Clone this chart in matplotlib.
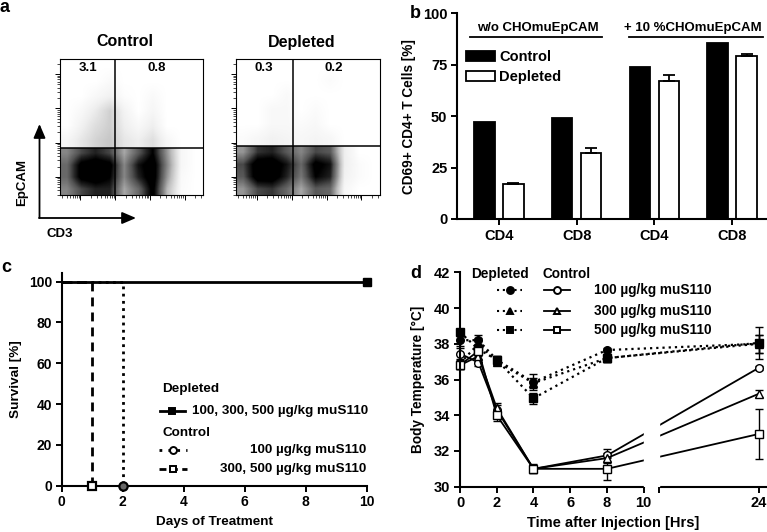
import numpy as np
import matplotlib
matplotlib.use('Agg')
import matplotlib.pyplot as plt
from matplotlib.patches import Patch, FancyArrowPatch

plt.rcParams['font.family'] = ['Liberation Sans', 'DejaVu Sans']
plt.rcParams['font.weight'] = 'bold'
plt.rcParams['axes.labelweight'] = 'bold'

W, H = 767, 532


def fx(px):
    return px / W


def fy(py):
    return 1 - py / H


flow_titles = ['Control', 'Depleted']
flow_quadrants = [['3.1', '0.8'], ['0.3', '0.2']]
flow_gate_x = [2.0, 2.04]
flow_gate_y = [1.85, 1.90]
ctrl_upper = [[0, 0, 0, 0, 0, 0, 0, 0, 0, 0],
              [0, 0, 0, 0.04, 0, 0, 0, 0, 0, 0],
              [0, 0, 0.05, 0.1, 0.02, 0, 0.04, 0, 0, 0],
              [0, 0.05, 0.14, 0.26, 0.09, 0, 0.07, 0, 0, 0],
              [0, 0.1, 0.2, 0.27, 0.12, 0.05, 0.12, 0, 0, 0],
              [0.07, 0.16, 0.25, 0.3, 0.16, 0.12, 0.2, 0.06, 0, 0]]
ctrl_lower = [[0.5, 0.7, 0.8, 0.7, 0.4, 0.65, 0.9, 0.45, 0.06, 0],
              [0.6, 0.95, 1.0, 0.95, 0.5, 0.85, 1.0, 0.5, 0.06, 0],
              [0.6, 0.95, 1.0, 0.9, 0.5, 0.8, 1.0, 0.45, 0.04, 0],
              [0.5, 0.7, 0.8, 0.8, 0.4, 0.6, 0.95, 0.35, 0.03, 0]]
depl_upper = [[0, 0, 0, 0, 0, 0, 0, 0, 0, 0],
              [0, 0, 0, 0, 0, 0, 0.03, 0, 0, 0],
              [0, 0, 0, 0.04, 0, 0, 0, 0, 0, 0],
              [0, 0, 0.05, 0.05, 0, 0.03, 0, 0, 0, 0],
              [0, 0, 0.05, 0.05, 0.03, 0.05, 0, 0, 0, 0],
              [0.03, 0.06, 0.1, 0.08, 0.06, 0.08, 0.06, 0, 0, 0]]
depl_lower = [[0.45, 0.75, 0.8, 0.65, 0.5, 0.7, 0.65, 0.12, 0, 0],
              [0.7, 1.0, 1.0, 0.85, 0.6, 0.95, 0.85, 0.12, 0.03, 0],
              [0.65, 1.0, 1.0, 0.8, 0.55, 0.9, 0.8, 0.1, 0.03, 0],
              [0.45, 0.7, 0.75, 0.6, 0.4, 0.65, 0.6, 0.06, 0, 0]]
flow_upper = [ctrl_upper, depl_upper]
flow_lower = [ctrl_lower, depl_lower]

# ---- panel b : activation bars
b_groups = ['CD4', 'CD8', 'CD4', 'CD8']
b_control = [47, 49, 74, 85.6]
b_depleted = [17, 32, 67, 79]
b_depleted_err = [0.6, 2.3, 2.9, 1.3]
b_headers = ['w/o CHOmuEpCAM', '+ 10 %CHOmuEpCAM']

# ---- panel c : survival
c_dep_days = [0, 10]
c_dep_surv = [100, 100]
c_ctl100_days = [0, 2, 2]
c_ctl100_surv = [100, 100, 0]
c_ctl300_days = [0, 1, 1]
c_ctl300_surv = [100, 100, 0]

# ---- panel d : body temperature
d_hours = [0, 1, 2, 4, 8, 24]
d_ctrl_100 = [37.45, 36.95, 34.3, 31.0, 31.75, 36.65]
d_ctrl_300 = [36.8, 37.3, 34.4, 31.0, 31.6, 35.2]
d_ctrl_500 = [36.8, 37.6, 34.0, 31.0, 31.0, 32.95]
d_dep_100 = [38.2, 38.2, 37.1, 35.85, 37.65, 38.0]
d_dep_300 = [36.9, 38.0, 37.0, 35.8, 37.2, 38.0]
d_dep_500 = [38.65, 37.7, 37.1, 34.95, 37.2, 38.05]
d_ctrl_100_err = [0.3, 0.2, 0.3, 0.25, 0.35, 0.1]
d_ctrl_300_err = [0.2, 0.3, 0.3, 0.2, 0.3, 0.2]
d_ctrl_500_err = [0.2, 0.3, 0.3, 0.2, 0.6, 1.4]
d_dep_100_err = [0.3, 0.3, 0.2, 0.45, 0.1, 0.5]
d_dep_300_err = [0.2, 0.3, 0.2, 0.3, 0.2, 0.5]
d_dep_500_err = [0.2, 0.3, 0.2, 0.3, 0.2, 0.9]
d_doses = ['100 µg/kg muS110', '300 µg/kg muS110', '500 µg/kg muS110']

fig = plt.figure(figsize=(W / 100, H / 100), dpi=100)

# =================== a
XL, YL = (0.41, 4.53), (0.47, 4.44)
minor = [d + np.log10(k) for d in range(0, 5) for k in range(2, 10)]
boxes = [(60, 59, 203, 195), (236, 59, 380, 195)]
for i, (l, t, r, b) in enumerate(boxes):
    ax = fig.add_axes([fx(l), fy(b), (r - l) / W, (b - t) / H])
    ax.imshow(flow_lower[i], extent=(XL[0], XL[1], YL[0], flow_gate_y[i]),
              cmap='Greys', vmin=0, vmax=0.9, aspect='auto', interpolation='bilinear')
    ax.imshow(flow_upper[i], extent=(XL[0], XL[1], flow_gate_y[i], YL[1]),
              cmap='Greys', vmin=0, vmax=0.9, aspect='auto', interpolation='bilinear')
    ax.axvline(flow_gate_x[i], color='k', lw=1.1)
    ax.axhline(flow_gate_y[i], color='k', lw=1.1)
    ax.set_xlim(XL)
    ax.set_ylim(YL)
    ax.set_xticks([1, 2, 3, 4])
    ax.set_yticks([1, 2, 3, 4])
    ax.set_xticks([m for m in minor if XL[0] < m < XL[1]], minor=True)
    ax.set_yticks([m for m in minor if YL[0] < m < YL[1]], minor=True)
    ax.tick_params(which='major', length=3.5, width=0.7, labelbottom=False, labelleft=False)
    ax.tick_params(which='minor', length=2, width=0.5)
    for s in ax.spines.values():
        s.set_linewidth(0.8)
    ax.text(1.22, 4.18, flow_quadrants[i][0], ha='center', va='center', fontsize=9.5)
    ax.text(3.2, 4.18, flow_quadrants[i][1], ha='center', va='center', fontsize=9.5)
fig.text(fx(125), fy(42), flow_titles[0], ha='center', va='center', fontsize=11.5)
fig.text(fx(302), fy(42), flow_titles[1], ha='center', va='center', fontsize=11.5)
for start, end in [((39.5, 218), (39.5, 124)), ((39, 218), (136, 218))]:
    fig.add_artist(FancyArrowPatch((fx(start[0]), fy(start[1])), (fx(end[0]), fy(end[1])),
                                   transform=fig.transFigure, mutation_scale=12,
                                   arrowstyle='-|>,head_length=0.7,head_width=0.3',
                                   color='k', lw=1.3, shrinkA=0, shrinkB=0))
fig.text(fx(22), fy(183), 'EpCAM', rotation=90, ha='center', va='center', fontsize=9.5)
fig.text(fx(60), fy(234), 'CD3', ha='center', va='center', fontsize=9.5)
fig.text(fx(5), fy(7), 'a', ha='center', va='center', fontsize=13)

# =================== b
axb = fig.add_axes([fx(457), fy(219), (767 - 457) / W, (219 - 13.3) / H])
xb = np.arange(len(b_groups))
bw, off = 0.26, 0.187
axb.bar(xb - off, b_control, bw, color='k', edgecolor='k', lw=1.3)
axb.bar(xb + off, b_depleted, bw, color='white', edgecolor='k', lw=1.3,
        yerr=[np.zeros(len(b_depleted_err)), b_depleted_err],
        error_kw=dict(ecolor='k', elinewidth=1.3, capsize=4, capthick=1.3))
axb.set_xlim(-0.54, 3.45)
axb.set_ylim(0, 100)
axb.set_yticks([0, 25, 50, 75, 100])
axb.set_xticks(xb)
axb.set_xticklabels(b_groups)
axb.tick_params(length=4, width=1.4, labelsize=10.5, pad=3)
for s in ['top', 'right']:
    axb.spines[s].set_visible(False)
for s in ['left', 'bottom']:
    axb.spines[s].set_linewidth(1.5)
axb.text(0.5, 93, b_headers[0], ha='center', va='center', fontsize=9.5)
axb.text(2.5, 93, b_headers[1], ha='center', va='center', fontsize=9.5)
axb.plot([-0.37, 1.33], [88.5, 88.5], color='k', lw=1.3)
axb.plot([1.67, 3.4], [88.5, 88.5], color='k', lw=1.3)
axb.legend([Patch(facecolor='k', edgecolor='k', lw=1.3),
            Patch(facecolor='white', edgecolor='k', lw=1.3)],
           ['Control', 'Depleted'], loc='upper left', bbox_to_anchor=(0.03, 0.82),
           frameon=False, fontsize=10.5, handlelength=2.0, handleheight=0.7,
           handletextpad=0.25, labelspacing=0.4, borderpad=0, borderaxespad=0)
axb.set_ylabel('CD69+ CD4+ T Cells [%]', fontsize=9.8, labelpad=5)
fig.text(fx(415), fy(14), 'b', ha='center', va='center', fontsize=13)

# =================== c
axc = fig.add_axes([fx(61.7), fy(485.7), 305 / W, 213 / H])
axc.plot(c_ctl300_days, c_ctl300_surv, color='k', lw=2, ls=(0, (3.2, 2.2)),
         marker='s', markevery=[len(c_ctl300_days) - 1], ms=6, mfc='white', mew=1.6,
         clip_on=False, zorder=3)
axc.plot(c_ctl100_days, c_ctl100_surv, color='k', lw=2, ls=(0, (1, 1.6)),
         marker='o', markevery=[len(c_ctl100_days) - 1], ms=6, mfc='0.4', mew=1.6,
         clip_on=False, zorder=3)
axc.plot(c_dep_days, c_dep_surv, color='k', lw=2, marker='s', markevery=[1], ms=6,
         clip_on=False, zorder=4)
axc.set_xlim(0, 10)
axc.set_ylim(0, 104.4)
axc.set_xticks(range(0, 11, 2))
axc.set_yticks(range(0, 101, 20))
axc.tick_params(length=4, width=1.4, labelsize=10, pad=3)
for s in ['top', 'right']:
    axc.spines[s].set_visible(False)
for s in ['left', 'bottom']:
    axc.spines[s].set_linewidth(1.5)
axc.set_xlabel('Days of Treatment', fontsize=9.7, labelpad=5)
axc.set_ylabel('Survival [%]', fontsize=9.7, labelpad=5)


def key(ax, x0, x1, y, ls, marker, mfc, lw=2, ms=5):
    ax.plot([x0, x1], [y, y], color='k', lw=lw, ls=ls, transform=ax.transAxes, clip_on=False)
    ax.plot([(x0 + x1) / 2], [y], color='k', marker=marker, mfc=mfc, ms=ms, mew=1.4,
            ls='none', transform=ax.transAxes, clip_on=False)


axc.text(0.329, 0.454, 'Depleted', ha='left', va='center', fontsize=9.7, transform=axc.transAxes)
key(axc, 0.321, 0.403, 0.351, '-', 's', 'k')
axc.text(0.428, 0.351, '100, 300, 500 µg/kg muS110', ha='left', va='center', fontsize=9.7,
         transform=axc.transAxes)
axc.text(0.329, 0.247, 'Control', ha='left', va='center', fontsize=9.7, transform=axc.transAxes)
key(axc, 0.318, 0.41, 0.168, (0, (1, 2.2)), 'o', 'white')
axc.text(1.0, 0.168, '100 µg/kg muS110', ha='right', va='center', fontsize=9.7,
         transform=axc.transAxes)
key(axc, 0.318, 0.41, 0.078, (0, (2.5, 1.6)), 's', 'white')
axc.text(1.0, 0.078, '300, 500 µg/kg muS110', ha='right', va='center', fontsize=9.7,
         transform=axc.transAxes)
fig.text(fx(6), fy(268), 'c', ha='center', va='center', fontsize=13)

# =================== d  (broken time axis)
B1, B2, GAP = 10.0, 18.56, 0.82


def fwd(t):
    t = np.asarray(t, float)
    return np.where(t <= B1, t, np.where(t >= B2, t - B2 + B1 + GAP, B1 + (t - B1) * GAP / (B2 - B1)))


def inv(u):
    u = np.asarray(u, float)
    return np.where(u <= B1, u, np.where(u >= B1 + GAP, u - B1 - GAP + B2, B1 + (u - B1) * (B2 - B1) / GAP))


axd = fig.add_axes([fx(460), fy(486.7), (767 - 460) / W, 214.4 / H])
axd.set_xscale('function', functions=(fwd, inv))
ebk = dict(color='k', ecolor='k', elinewidth=1.0, capsize=3, capthick=1.0, ms=5.5,
           clip_on=False)
for vals, err, m in [(d_dep_100, d_dep_100_err, 'o'), (d_dep_300, d_dep_300_err, '^'),
                     (d_dep_500, d_dep_500_err, 's')]:
    axd.errorbar(d_hours, vals, yerr=err, ls=(0, (1, 1.8)), lw=1.6, marker=m, mfc='k', **ebk)
for vals, err, m in [(d_ctrl_100, d_ctrl_100_err, 'o'), (d_ctrl_300, d_ctrl_300_err, '^'),
                     (d_ctrl_500, d_ctrl_500_err, 's')]:
    axd.errorbar(d_hours, vals, yerr=err, ls='-', lw=1.3, marker=m, mfc='white', mew=1.0, **ebk)
axd.axvspan(B1, B2, ymin=0.0, ymax=0.6, color='white', zorder=5)
axd.set_xlim(0, 24.45)
axd.set_ylim(30, 42)
axd.set_yticks(range(30, 43, 2))
axd.set_xticks([0, 2, 4, 6, 8, 10, B2, 24])
axd.set_xticklabels(['0', '2', '4', '6', '8', '10', '', '24'])
axd.xaxis.set_minor_locator(matplotlib.ticker.NullLocator())
axd.tick_params(length=4, width=1.4, labelsize=10.5, pad=3)
for s in ['top', 'right']:
    axd.spines[s].set_visible(False)
for s in ['left', 'bottom']:
    axd.spines[s].set_linewidth(1.5)
axd.spines['bottom'].set_bounds(0, B1)
axd.plot([B2, 24.45], [0, 0], color='k', lw=1.5, transform=axd.get_xaxis_transform(),
         clip_on=False, solid_capstyle='butt')
axd.set_xlabel('Time after Injection [Hrs]', fontsize=10.5, labelpad=4)
axd.set_ylabel('Body Temperature [°C]', fontsize=9.8, labelpad=6)
axd.text(0.130, 0.992, 'Depleted', ha='center', va='center', fontsize=9.8,
         transform=axd.transAxes, zorder=6)
axd.text(0.346, 0.992, 'Control', ha='center', va='center', fontsize=9.8,
         transform=axd.transAxes, zorder=6)
for y, m, lab in zip([0.917, 0.821, 0.731], ['o', '^', 's'], d_doses):
    key(axd, 0.121, 0.202, y, (0, (1, 1.8)), m, 'k', lw=1.5, ms=5)
    key(axd, 0.274, 0.359, y, '-', m, 'white', lw=1.3, ms=5)
    axd.text(0.435, y, lab, ha='left', va='center', fontsize=9.8, transform=axd.transAxes,
             zorder=6)
fig.text(fx(416), fy(273), 'd', ha='center', va='center', fontsize=13)

fig.savefig('out.png', dpi=100)
